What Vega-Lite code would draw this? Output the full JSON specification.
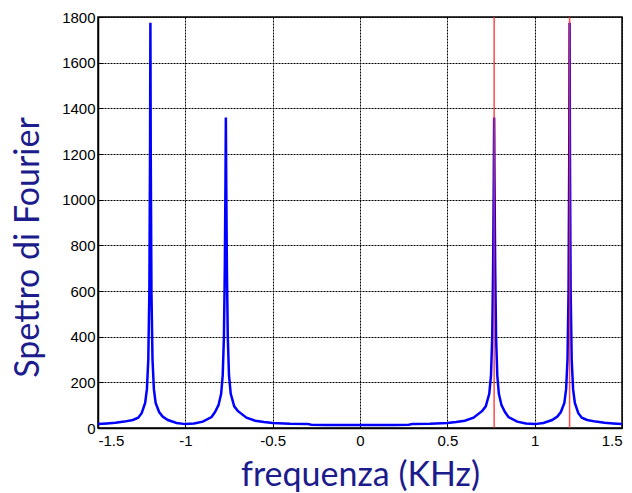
{
  "$schema": "https://vega.github.io/schema/vega-lite/v6.json",
  "autosize": "none",
  "width": 524,
  "height": 411,
  "padding": {"left": 98, "top": 17, "right": 10, "bottom": 65},
  "background": "white",
  "config": {
    "view": {"stroke": "black", "strokeWidth": 1.5},
    "axis": {
      "grid": true,
      "gridColor": "black",
      "gridDash": [2, 1],
      "gridOpacity": 1,
      "gridWidth": 1,
      "domainColor": "black",
      "domainWidth": 1.5,
      "tickColor": "black",
      "tickSize": -5,
      "labelFont": "Liberation Sans",
      "labelFontSize": 15,
      "labelColor": "black",
      "titleFont": "Lato",
      "titleFontWeight": "normal",
      "titleColor": "#1c1c8c"
    }
  },
  "datasets": {
    "spectrum": [
      {"f": -1.5, "s": 17}, {"f": -1.45, "s": 20}, {"f": -1.4, "s": 23}, {"f": -1.35, "s": 28},
      {"f": -1.3, "s": 35}, {"f": -1.27, "s": 45}, {"f": -1.25, "s": 65}, {"f": -1.23, "s": 110},
      {"f": -1.22, "s": 170}, {"f": -1.212, "s": 300}, {"f": -1.206, "s": 600}, {"f": -1.202, "s": 1200},
      {"f": -1.2, "s": 1775}, {"f": -1.198, "s": 1200}, {"f": -1.194, "s": 600}, {"f": -1.188, "s": 300},
      {"f": -1.18, "s": 170}, {"f": -1.17, "s": 110}, {"f": -1.15, "s": 70}, {"f": -1.13, "s": 50},
      {"f": -1.1, "s": 35}, {"f": -1.05, "s": 22}, {"f": -1.0, "s": 17}, {"f": -0.95, "s": 20},
      {"f": -0.9, "s": 28}, {"f": -0.85, "s": 48}, {"f": -0.83, "s": 70}, {"f": -0.81, "s": 100},
      {"f": -0.795, "s": 150}, {"f": -0.786, "s": 230}, {"f": -0.779, "s": 400}, {"f": -0.774, "s": 700},
      {"f": -0.77, "s": 1100}, {"f": -0.768, "s": 1360}, {"f": -0.766, "s": 1100}, {"f": -0.762, "s": 700},
      {"f": -0.757, "s": 400}, {"f": -0.75, "s": 230}, {"f": -0.74, "s": 150}, {"f": -0.72, "s": 95},
      {"f": -0.7, "s": 75}, {"f": -0.65, "s": 45}, {"f": -0.6, "s": 32}, {"f": -0.55, "s": 26},
      {"f": -0.5, "s": 22}, {"f": -0.4, "s": 19}, {"f": -0.3, "s": 18}, {"f": -0.28, "s": 14},
      {"f": -0.2, "s": 13}, {"f": -0.1, "s": 13}, {"f": 0.0, "s": 13}, {"f": 0.1, "s": 13},
      {"f": 0.2, "s": 13}, {"f": 0.28, "s": 14}, {"f": 0.3, "s": 18}, {"f": 0.4, "s": 19},
      {"f": 0.5, "s": 22}, {"f": 0.55, "s": 26}, {"f": 0.6, "s": 32}, {"f": 0.65, "s": 45},
      {"f": 0.7, "s": 75}, {"f": 0.72, "s": 95}, {"f": 0.74, "s": 150}, {"f": 0.75, "s": 230},
      {"f": 0.757, "s": 400}, {"f": 0.762, "s": 700}, {"f": 0.766, "s": 1100}, {"f": 0.768, "s": 1360},
      {"f": 0.77, "s": 1100}, {"f": 0.774, "s": 700}, {"f": 0.779, "s": 400}, {"f": 0.786, "s": 230},
      {"f": 0.795, "s": 150}, {"f": 0.81, "s": 100}, {"f": 0.83, "s": 70}, {"f": 0.85, "s": 48},
      {"f": 0.9, "s": 28}, {"f": 0.95, "s": 20}, {"f": 1.0, "s": 17}, {"f": 1.05, "s": 22},
      {"f": 1.1, "s": 35}, {"f": 1.13, "s": 50}, {"f": 1.15, "s": 70}, {"f": 1.17, "s": 110},
      {"f": 1.18, "s": 170}, {"f": 1.188, "s": 300}, {"f": 1.194, "s": 600}, {"f": 1.198, "s": 1200},
      {"f": 1.2, "s": 1775}, {"f": 1.202, "s": 1200}, {"f": 1.206, "s": 600}, {"f": 1.212, "s": 300},
      {"f": 1.22, "s": 170}, {"f": 1.23, "s": 110}, {"f": 1.25, "s": 65}, {"f": 1.27, "s": 45},
      {"f": 1.3, "s": 35}, {"f": 1.35, "s": 28}, {"f": 1.4, "s": 23}, {"f": 1.45, "s": 20},
      {"f": 1.5, "s": 17}
    ],
    "markers": [{"f": 0.768}, {"f": 1.2}]
  },
  "layer": [
    {
      "data": {"name": "spectrum"},
      "mark": {"type": "line", "color": "#0000ff", "strokeWidth": 2.5, "clip": true},
      "encoding": {
        "x": {
          "field": "f", "type": "quantitative",
          "scale": {"domain": [-1.5, 1.5], "nice": false, "zero": false},
          "axis": {
            "values": [-1.5, -1, -0.5, 0, 0.5, 1, 1.5],
            "labelExpr": "datum.value < 0 ? '-' + format(-datum.value, '~g') : format(datum.value, '~g')",
            "labelPadding": 10,
            "title": "frequenza (KHz)",
            "titleFontSize": 34,
            "titleY": 47,
            "titleBaseline": "middle"
          }
        },
        "y": {
          "field": "s", "type": "quantitative",
          "scale": {"domain": [0, 1800], "nice": false},
          "axis": {
            "values": [0, 200, 400, 600, 800, 1000, 1200, 1400, 1600, 1800],
            "format": "d",
            "labelPadding": 8,
            "title": "Spettro di Fourier",
            "titleFontSize": 34,
            "titleAngle": -90,
            "titleX": -70,
            "titleY": 230,
            "titleAlign": "center",
            "titleBaseline": "middle"
          }
        }
      }
    },
    {
      "data": {"name": "markers"},
      "mark": {"type": "rule", "color": "#ff2a2a", "strokeWidth": 1.5, "opacity": 0.85},
      "encoding": {
        "x": {"field": "f", "type": "quantitative"}
      }
    }
  ]
}
